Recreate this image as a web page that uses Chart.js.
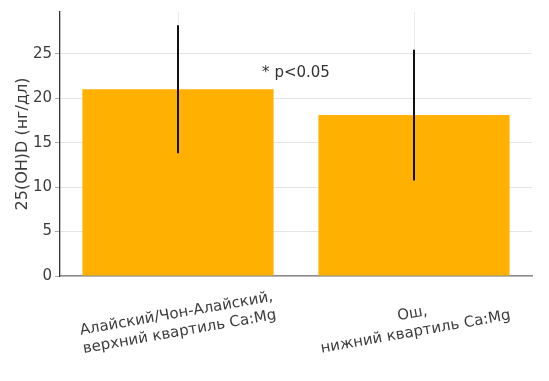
<!DOCTYPE html>
<html>
<head>
<meta charset="utf-8">
<script src="https://cdn.jsdelivr.net/npm/chart.js@4/dist/chart.umd.min.js"></script>
<style>
html,body{margin:0;padding:0;background:#fff;}
#wrap{width:549px;height:381px;position:relative;}
</style>
</head>
<body>
<div id="wrap"><canvas id="c" width="549" height="381"></canvas></div>
<script>
const categories = [
  ["Алайский/Чон-Алайский,", "верхний квартиль Ca:Mg"],
  ["Ош,", "нижний квартиль Ca:Mg"]
];
const means = [21.0, 18.1];
const errors = [7.2, 7.35];
const yTicks = [0, 5, 10, 15, 20, 25];
const yMax = 29.7;
const yTitle = "25(OH)D (нг/дл)";
const note = "* p<0.05";
const noteY = 22.8;

const FONT = "'DejaVu Sans', sans-serif";
const TXT = '#3c3c3c';

const helper = {
  id: 'helper',
  afterDatasetsDraw(chart) {
    const ctx = chart.ctx, x = chart.scales.x, y = chart.scales.y;
    ctx.save();
    ctx.strokeStyle = '#111';
    ctx.lineWidth = 2;
    means.forEach((m, i) => {
      const px = x.getPixelForValue(i);
      ctx.beginPath();
      ctx.moveTo(px, y.getPixelForValue(m + errors[i]));
      ctx.lineTo(px, y.getPixelForValue(m - errors[i]));
      ctx.stroke();
    });
    // note
    ctx.fillStyle = '#333';
    ctx.font = '15px ' + FONT;
    ctx.textAlign = 'center';
    ctx.textBaseline = 'middle';
    const mid = (x.getPixelForValue(0) + x.getPixelForValue(1)) / 2;
    ctx.fillText(note, mid, y.getPixelForValue(noteY));
    // x labels rotated
    ctx.fillStyle = TXT;
    categories.forEach((lines, i) => {
      const px = x.getPixelForValue(i);
      ctx.save();
      ctx.translate(px, y.bottom + 47);
      ctx.rotate(-10 * Math.PI / 180);
      const lh = 18.5;
      lines.forEach((t, k) => {
        ctx.fillText(t, 0, (k - (lines.length - 1) / 2) * lh);
      });
      ctx.restore();
    });
    ctx.restore();
  }
};

new Chart(document.getElementById('c'), {
  type: 'bar',
  data: {
    labels: categories.map(c => c.join(' ')),
    datasets: [{
      data: means,
      backgroundColor: '#FFB000',
      borderWidth: 0,
      barPercentage: 0.81,
      categoryPercentage: 1.0
    }]
  },
  options: {
    responsive: false,
    animation: false,
    devicePixelRatio: 1,
    layout: { padding: { top: 10, right: 17, left: 0, bottom: 0 } },
    plugins: { legend: { display: false }, tooltip: { enabled: false } },
    scales: {
      x: {
        ticks: { display: false },
        grid: { offset: false, color: '#ebebeb', lineWidth: 1, drawTicks: false },
        border: { color: '#8a8a8a', width: 1.5 },
        afterFit(s) { s.height = 105; }
      },
      y: {
        min: 0,
        max: yMax,
        afterBuildTicks(s) { s.ticks = yTicks.map(v => ({ value: v })); },
        ticks: { color: TXT, font: { family: FONT, size: 15 }, padding: 3 },
        grid: { color: '#e4e4e4', lineWidth: 1, tickLength: 5, tickColor: '#aaa' },
        border: { color: '#333', width: 1.3 },
        title: { display: true, text: yTitle, color: TXT, font: { family: FONT, size: 16 }, padding: { top: 13, bottom: 0 } },
        afterFit(s) { s.width = 60; }
      }
    }
  },
  plugins: [helper]
});
</script>
</body>
</html>
